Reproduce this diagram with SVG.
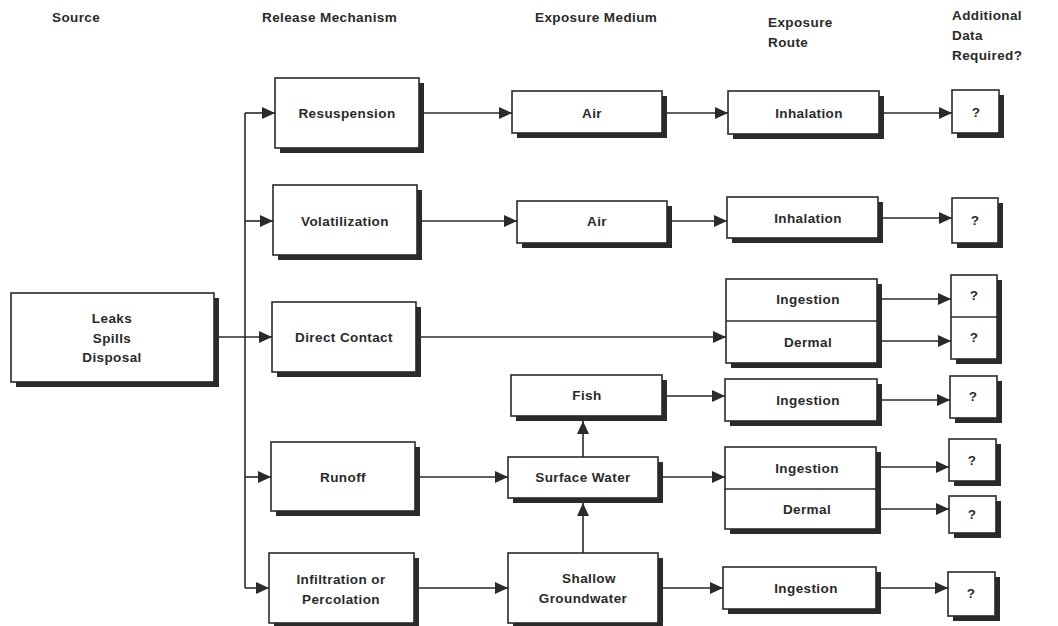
<svg xmlns="http://www.w3.org/2000/svg" width="1058" height="626" viewBox="0 0 1058 626">
<style>
text{font-family:"Liberation Sans",Arial,sans-serif;font-size:13.5px;font-weight:bold;fill:#2a2a2a;letter-spacing:0.4px}
.c{text-anchor:middle}
.sh{fill:#2a2a2a}
.bx{fill:#fff;stroke:#2a2a2a;stroke-width:1.6}
.ln{fill:none;stroke:#2a2a2a;stroke-width:1.6}
.cn path{fill:none;stroke:#2a2a2a;stroke-width:1.6}
</style>
<defs>
<marker id="ah" markerUnits="userSpaceOnUse" markerWidth="14" markerHeight="12" refX="13" refY="6" orient="auto">
<path d="M0,0 L13,6 L0,12 z" fill="#2a2a2a"/>
</marker>
</defs>

<g id="headers">
<text x="52" y="22">Source</text>
<text x="262" y="22">Release Mechanism</text>
<text x="535" y="22">Exposure Medium</text>
<text x="768" y="27">Exposure</text>
<text x="768" y="47">Route</text>
<text x="952" y="20">Additional</text>
<text x="952" y="40">Data</text>
<text x="952" y="60">Required?</text>
</g>

<g class="cn" id="connectors">
<path d="M219,337 H272" marker-end="url(#ah)"/>
<path d="M245,113 V588"/>
<path d="M245,113 H275" marker-end="url(#ah)"/>
<path d="M245,221 H273" marker-end="url(#ah)"/>
<path d="M245,477 H271" marker-end="url(#ah)"/>
<path d="M245,588 H269" marker-end="url(#ah)"/>
<path d="M424,113 H512" marker-end="url(#ah)"/>
<path d="M667,113 H728" marker-end="url(#ah)"/>
<path d="M884,113 H952" marker-end="url(#ah)"/>
<path d="M422,221 H517" marker-end="url(#ah)"/>
<path d="M672,221 H727" marker-end="url(#ah)"/>
<path d="M883,218 H952" marker-end="url(#ah)"/>
<path d="M421,337 H726" marker-end="url(#ah)"/>
<path d="M882,299 H951" marker-end="url(#ah)"/>
<path d="M882,341 H951" marker-end="url(#ah)"/>
<path d="M667,396 H725" marker-end="url(#ah)"/>
<path d="M882,400 H950" marker-end="url(#ah)"/>
<path d="M420,477 H508" marker-end="url(#ah)"/>
<path d="M583,457 V421" marker-end="url(#ah)"/>
<path d="M663,477 H725" marker-end="url(#ah)"/>
<path d="M881,467 H949" marker-end="url(#ah)"/>
<path d="M881,509 H949" marker-end="url(#ah)"/>
<path d="M583,553 V503" marker-end="url(#ah)"/>
<path d="M419,588 H508" marker-end="url(#ah)"/>
<path d="M663,588 H723" marker-end="url(#ah)"/>
<path d="M881,588 H948" marker-end="url(#ah)"/>
</g>

<g id="source">
<rect class="sh" x="16" y="298" width="203" height="89"/>
<rect class="bx" x="11" y="293" width="203" height="89"/>
<text class="c" x="112" y="323">Leaks</text>
<text class="c" x="112" y="343">Spills</text>
<text class="c" x="112" y="362">Disposal</text>
</g>

<g id="resuspension">
<rect class="sh" x="280" y="83" width="144" height="70"/>
<rect class="bx" x="275" y="78" width="144" height="70"/>
<text class="c" x="347" y="118">Resuspension</text>
</g>
<g id="volatilization">
<rect class="sh" x="278" y="190" width="144" height="70"/>
<rect class="bx" x="273" y="185" width="144" height="70"/>
<text class="c" x="345" y="226">Volatilization</text>
</g>
<g id="direct-contact">
<rect class="sh" x="277" y="307" width="144" height="70"/>
<rect class="bx" x="272" y="302" width="144" height="70"/>
<text class="c" x="344" y="342">Direct Contact</text>
</g>
<g id="runoff">
<rect class="sh" x="276" y="447" width="144" height="69"/>
<rect class="bx" x="271" y="442" width="144" height="69"/>
<text class="c" x="343" y="482">Runoff</text>
</g>
<g id="infiltration">
<rect class="sh" x="274" y="558" width="145" height="70"/>
<rect class="bx" x="269" y="553" width="145" height="70"/>
<text class="c" x="341" y="584">Infiltration or</text>
<text class="c" x="341" y="604">Percolation</text>
</g>

<g id="air1">
<rect class="sh" x="517" y="96" width="150" height="42"/>
<rect class="bx" x="512" y="91" width="150" height="42"/>
<text class="c" x="592" y="118">Air</text>
</g>
<g id="air2">
<rect class="sh" x="522" y="206" width="150" height="42"/>
<rect class="bx" x="517" y="201" width="150" height="42"/>
<text class="c" x="597" y="226">Air</text>
</g>
<g id="fish">
<rect class="sh" x="516" y="380" width="151" height="41"/>
<rect class="bx" x="511" y="375" width="151" height="41"/>
<text class="c" x="587" y="400">Fish</text>
</g>
<g id="surface-water">
<rect class="sh" x="513" y="462" width="150" height="41"/>
<rect class="bx" x="508" y="457" width="150" height="41"/>
<text class="c" x="583" y="482">Surface Water</text>
</g>
<g id="shallow-groundwater">
<rect class="sh" x="513" y="558" width="150" height="70"/>
<rect class="bx" x="508" y="553" width="150" height="70"/>
<text class="c" x="589" y="583">Shallow</text>
<text class="c" x="583" y="603">Groundwater</text>
</g>

<g id="inhalation1">
<rect class="sh" x="733" y="96" width="151" height="43"/>
<rect class="bx" x="728" y="91" width="151" height="43"/>
<text class="c" x="809" y="118">Inhalation</text>
</g>
<g id="inhalation2">
<rect class="sh" x="732" y="202" width="151" height="41"/>
<rect class="bx" x="727" y="197" width="151" height="41"/>
<text class="c" x="808" y="223">Inhalation</text>
</g>
<g id="ingestion-dermal1">
<rect class="sh" x="731" y="284" width="151" height="84"/>
<rect class="bx" x="726" y="279" width="151" height="84"/>
<path class="ln" d="M726,321 H877"/>
<text class="c" x="808" y="304">Ingestion</text>
<text class="c" x="808" y="347">Dermal</text>
</g>
<g id="ingestion-fish">
<rect class="sh" x="730" y="384" width="152" height="42"/>
<rect class="bx" x="725" y="379" width="152" height="42"/>
<text class="c" x="808" y="405">Ingestion</text>
</g>
<g id="ingestion-dermal2">
<rect class="sh" x="730" y="452" width="151" height="82"/>
<rect class="bx" x="725" y="447" width="151" height="82"/>
<path class="ln" d="M725,489 H876"/>
<text class="c" x="807" y="473">Ingestion</text>
<text class="c" x="807" y="514">Dermal</text>
</g>
<g id="ingestion-gw">
<rect class="sh" x="728" y="572" width="153" height="42"/>
<rect class="bx" x="723" y="567" width="153" height="42"/>
<text class="c" x="806" y="593">Ingestion</text>
</g>

<g id="q1">
<rect class="sh" x="957" y="95" width="47" height="43"/>
<rect class="bx" x="952" y="90" width="47" height="43"/>
<text class="c" x="976" y="117">?</text>
</g>
<g id="q2">
<rect class="sh" x="957" y="203" width="46" height="45"/>
<rect class="bx" x="952" y="198" width="46" height="45"/>
<text class="c" x="975" y="225">?</text>
</g>
<g id="q3">
<rect class="sh" x="956" y="280" width="46" height="84"/>
<rect class="bx" x="951" y="275" width="46" height="84"/>
<path class="ln" d="M951,317 H997"/>
<text class="c" x="974" y="300">?</text>
<text class="c" x="974" y="342">?</text>
</g>
<g id="q4">
<rect class="sh" x="955" y="381" width="47" height="42"/>
<rect class="bx" x="950" y="376" width="47" height="42"/>
<text class="c" x="973" y="401">?</text>
</g>
<g id="q5">
<rect class="sh" x="954" y="444" width="47" height="42"/>
<rect class="bx" x="949" y="439" width="47" height="42"/>
<text class="c" x="972" y="465">?</text>
</g>
<g id="q6">
<rect class="sh" x="954" y="501" width="47" height="37"/>
<rect class="bx" x="949" y="496" width="47" height="37"/>
<text class="c" x="972" y="519">?</text>
</g>
<g id="q7">
<rect class="sh" x="953" y="577" width="47" height="44"/>
<rect class="bx" x="948" y="572" width="47" height="44"/>
<text class="c" x="971" y="598">?</text>
</g>
</svg>
